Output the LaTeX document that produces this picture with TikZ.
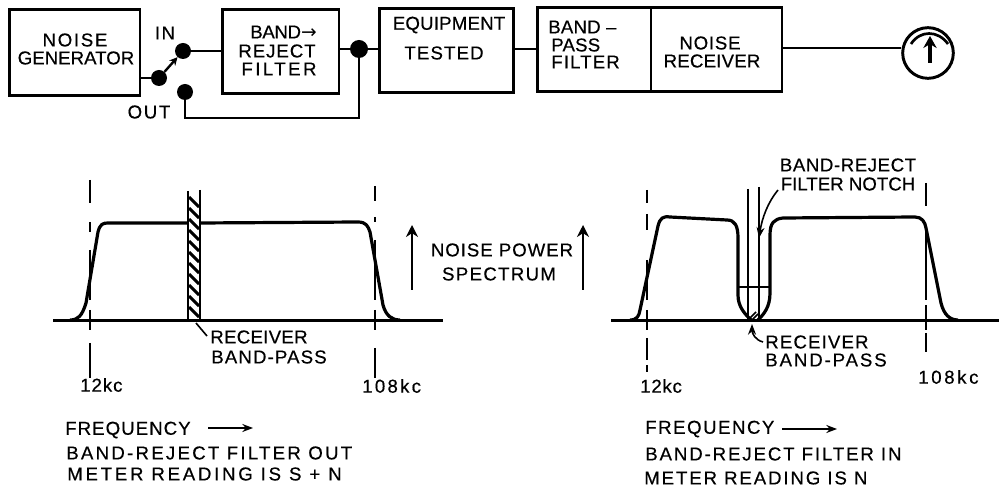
\documentclass[tikz,border=0pt]{standalone}
\usepackage{fontspec}
\setmainfont{Liberation Sans}
\newfontfamily\arrowfont{DejaVu Sans}
\usetikzlibrary{arrows.meta}
\tikzset{
  box/.style={draw,line width=2.2pt,inner sep=0pt},
  dot/.style={circle,fill=black,inner sep=0pt,minimum size=12pt},
  wire/.style={line width=1.8pt},
  fine/.style={line width=1.2pt},
  curve/.style={line width=2.4pt,line join=round},
  base/.style={line width=2.2pt},
  dashline/.style={line width=1.1pt},
  txt/.style={font=\fontsize{14}{16}\selectfont\addfontfeature{LetterSpace=#1,FakeBold=0.4},inner sep=0pt},
  txt/.default=0,
  ltxt/.style={txt=#1,anchor=west},
  ltxt/.default=0,
  tip/.style={-{Stealth[length=8pt,width=6pt]},line width=1.2pt},
  uptip/.style={-{Stealth[length=9pt,width=9pt]},line width=1.5pt}
}
\begin{document}
\begin{tikzpicture}[x=0.75pt,y=-0.75pt]
\useasboundingbox (0,0) rectangle (999,491);
% block row
\node[box,minimum width=98.2pt,minimum height=64.5pt] (gen) at (74.5,52.5) {};
\node[box,minimum width=87.7pt,minimum height=63pt] (brf) at (280.5,51.5) {};
\node[box,minimum width=101pt,minimum height=63pt] (eq) at (446.5,50.5) {};
\node[box,minimum width=183.7pt,minimum height=63pt] (brx) at (659.5,49.5) {};
\coordinate (divt) at (651,7); \coordinate (divb) at (651,92);
\draw[wire] (divt) -- (divb);
\node[txt=9] (t1) at (75,40) {NOISE};
\node[txt] (t2) at (76,58) {GENERATOR};
\node[txt=8] (t3) at (165,33) {IN};
\node[txt=9] (t4) at (149,112) {OUT};
\node[ltxt=-2] (t5) at (250,32) {BAND{\arrowfont→}};
\node[txt=5] (t6) at (277,51) {REJECT};
\node[txt=13] (t7) at (279,69) {FILTER};
\node[txt=1] (t8) at (449,25) {EQUIPMENT};
\node[txt=6] (t9) at (444,53) {TESTED};
\node[ltxt=1] (t10) at (548,27) {BAND –};
\node[ltxt=1] (t11) at (551,45) {PASS};
\node[ltxt=6] (t12) at (551,62) {FILTER};
\node[txt=4] (t13) at (710,43) {NOISE};
\node[txt=1] (t14) at (712,61) {RECEIVER};
% switch
\node[dot] (s0) at (159,78) {};
\node[dot] (s1) at (183,51) {};
\node[dot] (s2) at (185,92) {};
\node[dot,minimum size=13.5pt] (j) at (359,49) {};
\draw[wire] (gen.east|-s0) -- (s0);
\draw[wire,-{Stealth[length=6pt,width=6pt]}] (s0) -- (s1);
\draw[wire] (s1) -- (brf.west|-s1);
\draw[wire] (brf.east|-j) -- (j) -- (eq.west|-j);
\draw[wire] (s2) |- (j|-0,118) -- (j);
\draw[wire] (eq.east|-j) -- (brx.west|-j);
% meter
\node[circle,draw,line width=2.2pt,minimum size=38pt,inner sep=0pt] (m) at (928,53) {};
\draw[wire] (brx.east|-0,48) -- (m.west|-0,48);
\draw[line width=2pt] (911,44) .. controls (920,30) and (938,30) .. (948,44);
\draw[line width=2.4pt,-{Stealth[length=9pt,width=10pt]}] (930,63) -- (930,36);
% left graph
\draw[base] (53,320.5) -- (443,320.5);
\draw[curve] (70,320) .. controls (78,320) and (82,316) .. (86,303) -- (98,232) .. controls (100,224) and (103,223) .. (108,223) -- (188,223) (200,223) -- (358,222) .. controls (366,222) and (368,226) .. (370,232) -- (383,305) .. controls (386,316) and (392,320) .. (400,320);
\foreach \a/\b in {180/203,222/232,250/300,310/330,343/378}{\draw[dashline] (90,\a) -- (90,\b);}
\foreach \a/\b in {186/201,217/222,240/300,310/330,348/378}{\draw[dashline] (375,\a) -- (375,\b);}
\draw[base] (188,191) -- (188,320);
\draw[base] (200,190) -- (200,320);
\foreach \y in {197,208,...,308}{\draw[line width=2.2pt] (189,\y) -- (199,\y+10);}
\coordinate (lrx) at (207,336);
\draw[line width=1.2pt] (196,323) -- (lrx);
\node[ltxt=1.5] (r1) at (210,337) {RECEIVER};
\node[ltxt=6] (r2) at (211,357) {BAND-PASS};
\node[ltxt=5] (k1) at (80,385) {12kc};
\node[ltxt=12] (k2) at (362,386) {108kc};
% arrows centre
\coordinate (a1a) at (412,290); \coordinate (a1b) at (412,225);
\coordinate (a2a) at (583,290); \coordinate (a2b) at (583,225);
\draw[uptip] (a1a) -- (a1b);
\draw[uptip] (a2a) -- (a2b);
\node[txt=5] (n1) at (502,250) {NOISE POWER};
\node[txt=7] (n2) at (499,274) {SPECTRUM};
% right graph
\draw[base] (611,320.5) -- (999,320.5);
\draw[curve] (630,320) .. controls (637,320) and (639,316) .. (640,310) -- (658,226) .. controls (660,218) and (663,216) .. (670,217) -- (727,220) .. controls (735,220) and (738,226) .. (738,238) -- (738,295) .. controls (738,307) and (745,314) .. (751,320);
\draw[curve] (758,320) .. controls (764,314) and (770,307) .. (770,293) -- (770,235) .. controls (770,223) and (774,219) .. (783,218) -- (915,217) .. controls (922,217) and (925,222) .. (926,228) -- (941,303) .. controls (944,315) and (950,320) .. (958,320);
\draw[fine] (748,189) -- (748,320);
\draw[line width=1.6pt] (759,187) -- (759,320);
\draw[fine] (739,287) -- (769,287);
\draw[fine] (749,319) -- (756,312) (752,320) -- (758,314);
\foreach \a/\b in {190/203,214/230,260/300,310/330,338/360,365/372}{\draw[dashline] (647,\a) -- (647,\b);}
\foreach \a/\b in {183/206,226/300,305/330,333/352}{\draw[dashline] (926,\a) -- (926,\b);}
\node[txt=3] (b1) at (848,165) {BAND-REJECT};
\node[txt=0] (b2) at (848,184) {FILTER NOTCH};
\coordinate (bt) at (778,190);
\draw[tip] (bt) .. controls (768,202) and (762,218) .. (759,238);
\coordinate (rt) at (763,342);
\draw[tip] (rt) .. controls (755,340) and (752,333) .. (752,324);
\node[ltxt=6] (r3) at (765,342) {RECEIVER};
\node[ltxt=10] (r4) at (765,360) {BAND-PASS};
\node[ltxt=4] (k3) at (640,386) {12kc};
\node[ltxt=14] (k4) at (918,377) {108kc};
% captions
\node[ltxt=5.5] (c1) at (65,430) {FREQUENCY};
\coordinate (c1a) at (208,428); \coordinate (c1b) at (253,428);
\draw[tip] (c1a) -- (c1b);
\node[ltxt=12] (c2) at (66,453) {BAND-REJECT FILTER OUT};
\node[ltxt=14.6] (c3) at (67,474) {METER READING IS S + N};
\node[ltxt=8] (d1) at (645,429) {FREQUENCY};
\coordinate (d1a) at (782,429); \coordinate (d1b) at (837,429);
\draw[tip] (d1a) -- (d1b);
\node[ltxt=10] (d2) at (645,454) {BAND-REJECT FILTER IN};
\node[ltxt=10] (d3) at (644,478) {METER READING IS N};
\end{tikzpicture}
\end{document}
